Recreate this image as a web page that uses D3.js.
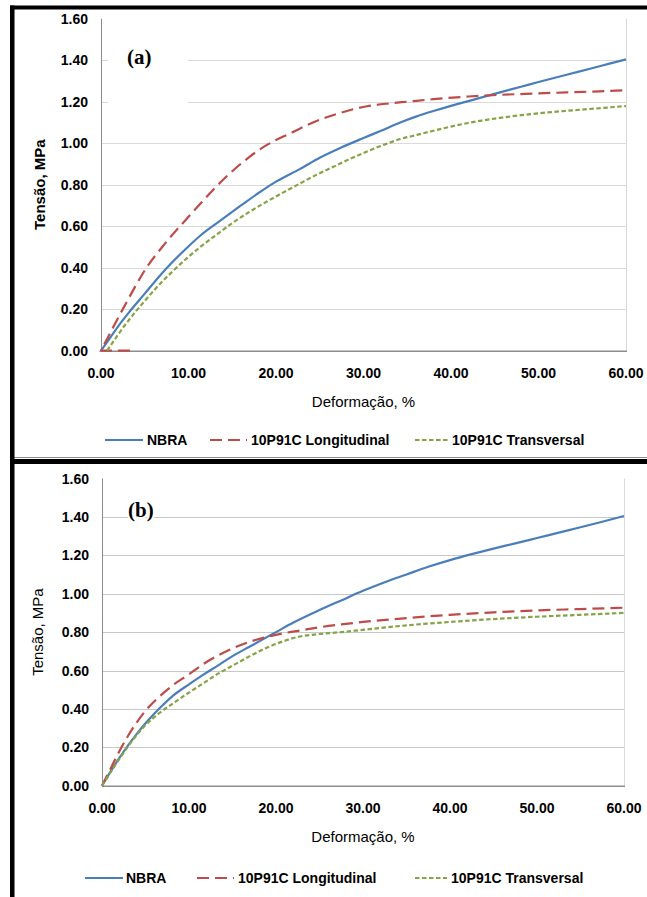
<!DOCTYPE html>
<html lang="pt">
  <head>
    <meta charset="UTF-8" />
    <script src="https://d3js.org/d3.v7.min.js"></script>
    <title>Tensão x Deformação</title>
    <style>
      body { margin: 0; background: #fff; }
      text { font-family: Arial, "Liberation Sans", sans-serif; fill: #000; }
    </style>
  </head>
  <body>
    <svg id="chart" width="647" height="897"></svg>

    <script>
      // tick values
      const xTicks = [0, 10, 20, 30, 40, 50, 60];
      const yTicks = [0, 0.2, 0.4, 0.6, 0.8, 1.0, 1.2, 1.4, 1.6];
      const seriesNames = ["NBRA", "10P91C Longitudinal", "10P91C Transversal"];

      // panel (a): [deformação %, tensão MPa]
      const nbraA = [[0,0],[1,0.06],[2,0.12],[3.3,0.19],[5,0.275],[6.7,0.36],[8,0.42],[9.8,0.495],[11.5,0.56],[13.4,0.62],
        [16,0.7],[18,0.76],[20,0.815],[22.7,0.875],[25,0.93],[27.5,0.98],[30,1.025],[32,1.06],[34.2,1.1],[36,1.128],
        [38,1.155],[40,1.18],[42.6,1.21],[45.6,1.245],[48,1.272],[50,1.295],[53.2,1.33],[56,1.36],[58,1.382],[60,1.404]];
      const longA = [[3.3,0],[0,0],[0.8,0.065],[1.6,0.13],[3,0.24],[5.2,0.4],[7,0.5],[8.5,0.575],[10,0.645],[11.5,0.715],
        [12.8,0.775],[15,0.865],[17,0.935],[18.5,0.98],[20,1.015],[21.5,1.045],[22.7,1.07],[24.5,1.105],[26.5,1.135],
        [28.5,1.16],[30.4,1.178],[33,1.192],[35,1.2],[38,1.212],[42,1.225],[45.6,1.233],[50,1.24],[53.2,1.245],
        [57,1.25],[60,1.255]];
      const transA = [[0.7,0],[1.5,0.05],[2.5,0.11],[3.7,0.175],[5,0.24],[6.7,0.32],[8,0.375],[9.8,0.445],[11.5,0.505],
        [13.4,0.565],[15,0.615],[17,0.67],[19,0.72],[20.5,0.755],[22.7,0.805],[24.5,0.845],[26.5,0.885],[28.5,0.925],
        [30.4,0.96],[32.3,0.992],[34.2,1.02],[36.1,1.04],[38,1.06],[40,1.08],[41.8,1.096],[43.5,1.109],[45.6,1.122],
        [48,1.135],[50,1.144],[53.2,1.156],[56.5,1.167],[60,1.179]];

      // panel (b)
      const nbraB = [[0,0],[1,0.075],[2,0.145],[3,0.21],[4,0.27],[5,0.325],[6,0.375],[7,0.42],[8.2,0.47],[10,0.528],
        [11.7,0.58],[13.4,0.628],[15,0.675],[17,0.725],[19,0.775],[20,0.8],[22,0.85],[25,0.915],[27.5,0.965],
        [30,1.015],[32.5,1.06],[35,1.1],[37.5,1.14],[40,1.175],[42.5,1.206],[45,1.235],[47.5,1.262],[50,1.29],
        [52.5,1.318],[55,1.346],[57.5,1.375],[60,1.405]];
      const longB = [[0,0],[1,0.09],[2,0.18],[3,0.26],[4,0.33],[5,0.39],[6.5,0.46],[8.2,0.525],[10,0.58],[11.7,0.635],
        [13.4,0.68],[15,0.715],[17,0.75],[19,0.775],[21,0.795],[23,0.81],[25,0.825],[27.5,0.84],[30,0.853],[35,0.873],
        [40,0.89],[45,0.903],[50,0.913],[55,0.92],[60,0.927]];
      const transB = [[0,0],[1,0.07],[2,0.14],[3,0.205],[4,0.265],[5,0.315],[6.5,0.375],[8.2,0.43],[10,0.485],
        [11.7,0.535],[13.4,0.585],[15,0.625],[17,0.675],[19,0.72],[21,0.755],[22.5,0.775],[25,0.79],[27.5,0.8],
        [30,0.812],[35,0.835],[40,0.853],[45,0.868],[50,0.88],[55,0.89],[60,0.9]];

      const styles = [
        { color: "#4A7EBB", dash: null },
        { color: "#BE4B48", dash: "12,6" },
        { color: "#86A445", dash: "4.5,2.5" },
      ];

      const svg = d3.select("#chart");
      const fmt = d3.format(".2f");

      function drawPanel(p) {
        const x = d3.scaleLinear().domain([0, 60]).range([p.left, p.right]);
        const y = d3.scaleLinear().domain([0, 1.6]).range([p.bottom, p.top]);
        const g = svg.append("g");

        // gridlines
        g.append("g")
          .selectAll("line")
          .data(yTicks.filter((d) => d > 0 && d < 1.6))
          .enter()
          .append("line")
          .attr("x1", p.left)
          .attr("x2", p.right)
          .attr("y1", (d) => Math.round(y(d)) + 0.5)
          .attr("y2", (d) => Math.round(y(d)) + 0.5)
          .attr("stroke", p.grid);

        // right border of plot area
        g.append("line")
          .attr("x1", p.right + 0.5).attr("x2", p.right + 0.5)
          .attr("y1", p.top).attr("y2", p.bottom)
          .attr("stroke", "#D9D9D9");

        // label box ((a) has a white box over the grid)
        if (p.box) {
          g.append("rect")
            .attr("x", p.box[0]).attr("y", p.box[1])
            .attr("width", p.box[2]).attr("height", p.box[3])
            .attr("fill", "#fff");
        }
        g.append("text")
          .attr("x", p.tagX)
          .attr("y", p.tagY)
          .style("font-family", "'Times New Roman', 'Liberation Serif', serif")
          .style("font-weight", "bold")
          .style("font-size", "21px")
          .style("paint-order", "stroke")
          .style("stroke", "#fff")
          .style("stroke-width", p.box ? 0 : 4)
          .text(p.tag);

        // axes
        g.append("line")
          .attr("x1", p.left + 0.5).attr("x2", p.left + 0.5)
          .attr("y1", p.top).attr("y2", p.bottom)
          .attr("stroke", "#8C8C8C");
        g.append("line")
          .attr("x1", p.left).attr("x2", p.right + 1)
          .attr("y1", p.bottom + 0.5).attr("y2", p.bottom + 0.5)
          .attr("stroke", "#8C8C8C")
          .attr("stroke-width", 1.5);

        g.append("g")
          .selectAll("text")
          .data(yTicks)
          .enter()
          .append("text")
          .attr("x", p.left - 13)
          .attr("y", (d) => y(d))
          .attr("dy", "0.36em")
          .attr("text-anchor", "end")
          .style("font-size", "14px")
          .style("font-weight", "bold")
          .text(fmt);

        g.append("g")
          .selectAll("text")
          .data(xTicks)
          .enter()
          .append("text")
          .attr("x", (d) => x(d))
          .attr("y", p.xTickY)
          .attr("text-anchor", "middle")
          .style("font-size", "14px")
          .style("font-weight", "bold")
          .text(fmt);

        g.append("text")
          .attr("x", (p.left + p.right) / 2)
          .attr("y", p.xTitleY)
          .attr("text-anchor", "middle")
          .style("font-size", "15px")
          .text("Deformação, %");

        g.append("text")
          .attr("transform", `translate(${p.yTitleX},${(p.top + p.bottom) / 2}) rotate(-90)`)
          .attr("text-anchor", "middle")
          .style("font-size", "15px")
          .style("font-weight", p.yTitleBold ? "bold" : "normal")
          .text("Tensão, MPa");

        // curves (a leading point that steps back to the origin is drawn straight)
        const line = d3.line().x((d) => x(d[0])).y((d) => y(d[1])).curve(d3.curveMonotoneX);
        const lineRaw = d3.line().x((d) => x(d[0])).y((d) => y(d[1]));
        p.series.forEach((s, i) => {
          const back = s[0][0] > s[1][0];
          g.append("path")
            .attr("d", back ? lineRaw(s.slice(0, 2)) + line(s.slice(1)).replace(/^M/, "L") : line(s))
            .attr("fill", "none")
            .attr("stroke", styles[i].color)
            .attr("stroke-width", 2.2)
            .attr("stroke-dasharray", styles[i].dash);
        });

        // legend
        seriesNames.forEach((name, i) => {
          const [x0, x1, tx] = p.legend[i];
          g.append("line")
            .attr("x1", x0).attr("x2", x1)
            .attr("y1", p.legendY).attr("y2", p.legendY)
            .attr("stroke", styles[i].color)
            .attr("stroke-width", 2.2)
            .attr("stroke-dasharray", styles[i].dash);
          g.append("text")
            .attr("x", tx)
            .attr("y", p.legendY)
            .attr("dy", "0.36em")
            .style("font-size", "14px")
            .style("font-weight", "bold")
            .text(name);
        });
      }

      drawPanel({
        left: 101, right: 626, top: 18.7, bottom: 350.7, grid: "#D9D9D9",
        xTickY: 378, xTitleY: 407, yTitleX: 45, yTitleBold: true,
        tag: "(a)", tagX: 127, tagY: 64, box: [108, 28, 80, 96],
        legendY: 440,
        legend: [[105, 143, 147], [210, 247, 251], [415, 449, 452]],
        series: [nbraA, longA, transA],
      });

      drawPanel({
        left: 102, right: 624, top: 478.5, bottom: 785.7, grid: "#C8C8C8",
        xTickY: 813, xTitleY: 842, yTitleX: 43, yTitleBold: false,
        tag: "(b)", tagX: 128, tagY: 517, box: null,
        legendY: 878,
        legend: [[85, 123, 126], [197, 234, 238], [415, 447, 451]],
        series: [nbraB, longB, transB],
      });

      // figure frame
      svg.append("line")
        .attr("x1", 14).attr("x2", 647).attr("y1", 457.5).attr("y2", 457.5)
        .attr("stroke", "#8C8C8C");
      svg.append("rect").attr("x", 10).attr("y", 5.5).attr("width", 637).attr("height", 4).attr("fill", "#000");
      svg.append("rect").attr("x", 10).attr("y", 459).attr("width", 637).attr("height", 5).attr("fill", "#000");
      svg.append("rect").attr("x", 10).attr("y", 5.5).attr("width", 4.5).attr("height", 892).attr("fill", "#000");
    </script>
  </body>
</html>
